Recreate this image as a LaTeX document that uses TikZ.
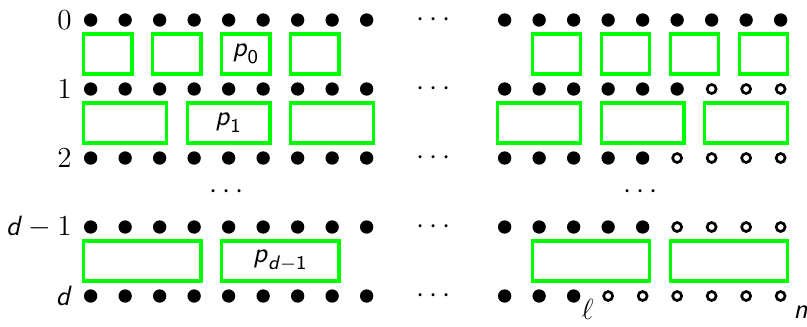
\documentclass[tikz,border=0pt]{standalone}
\usepackage{amsmath}
\usetikzlibrary{calc}

\tikzset{
  dotfull/.style={circle, fill=black, inner sep=0pt, minimum size=5.5pt},
  dotopen/.style={circle, draw=black, line width=1.1pt, inner sep=0pt, minimum size=3.7pt},
  part/.style={draw=green, line width=1.4pt, minimum height=0.58cm, inner sep=0pt},
}

% sans italic letters
\newcommand{\sv}[1]{\textsf{\textit{#1}}}
% box over columns #2..#3 just below row #1
\newcommand{\partbox}[4]{%
  \node[part, minimum width={(#3-#2)*0.5cm+0.2cm}] (q#1-#2) at ({0.25*(#2+#3)},{-#1-0.49}) {#4};}

\begin{document}
\begin{tikzpicture}[font=\fontsize{11.5}{14}\selectfont]
\useasboundingbox (-1.314,0.29) rectangle (10.382,-4.435);
% the rows of points, open from column \cut on
\foreach \r/\lab/\cut in {0/$0$/21, 1/$1$/18, 2/$2$/17, 3/{$\sv{d}-1$}/17, 4/$\sv{d}$/15} {
  \node[anchor=east] (lab\r) at (-0.15,-\r) {\lab};
  \node (gap\r) at (5,-\r) {$\cdots$};
  \foreach \c in {0,...,8,12,13,...,20} {
    \ifnum\c<\cut
      \node[dotfull] (p\r-\c) at (0.5*\c,-\r) {};
    \else
      \node[dotopen] (p\r-\c) at (0.5*\c,-\r) {};
    \fi
  }
}
\node (vdl) at (2,-2.5) {$\cdots$};
\node (vdr) at (8,-2.5) {$\cdots$};

% the parts
\foreach \a/\b/\t in {0/1/{}, 2/3/{}, 4/5/{$\sv{p}_{\textsf{0}}$}, 6/7/{}, 13/14/{}, 15/16/{}, 17/18/{}, 19/20/{}}
  \partbox{0}{\a}{\b}{\t};
\foreach \a/\b/\t in {0/2/{}, 3/5/{$\sv{p}_{\textsf{1}}$}, 6/8/{}, 12/14/{}, 15/17/{}, 18/20/{}}
  \partbox{1}{\a}{\b}{\t};
\foreach \a/\b/\t in {0/3/{}, 4/7/{$\sv{p}_{\sv{d}-\textsf{1}}$}, 13/16/{}, 17/20/{}}
  \partbox{3}{\a}{\b}{\t};

\node[below right, inner sep=1pt, yshift=2pt] (ell) at (p4-14.south east) {$\ell$};
\node[below right, inner sep=2pt, xshift=1.5pt] (n) at (p4-20.south east) {$\sv{n}$};
\end{tikzpicture}
\end{document}
